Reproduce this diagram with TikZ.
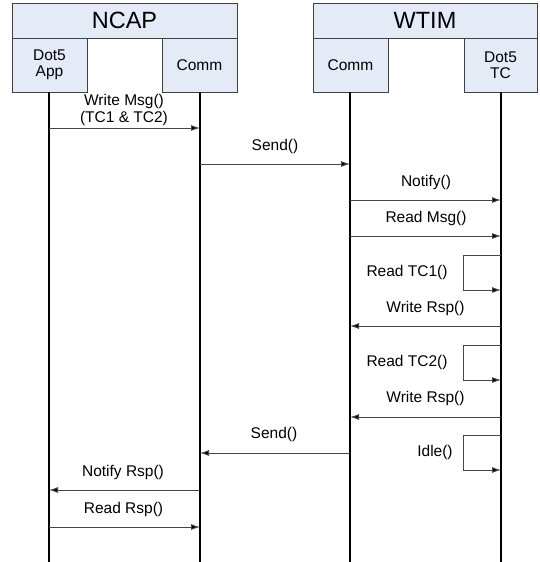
\documentclass[tikz,border=0pt]{standalone}
\usepackage{fontspec}
\setmainfont{Liberation Sans}
\usetikzlibrary{arrows.meta}
\definecolor{boxfill}{RGB}{228,235,247}
\definecolor{boxline}{RGB}{64,64,64}
\definecolor{msgline}{RGB}{70,70,70}
\tikzset{
  hdr/.style={draw=boxline, fill=boxfill, line width=0.9pt, inner sep=0pt,
    font=\fontsize{23.5}{26}\selectfont},
  sub/.style={draw=boxline, fill=boxfill, line width=0.9pt, inner sep=0pt,
    align=center, font=\fontsize{15.5}{16.5}\selectfont},
  life/.style={line width=1.4pt, black},
  msg/.style={draw=msgline, line width=0.9pt, -{Latex[length=9pt,width=6pt,fill=black]}},
  lbl/.style={font=\fontsize{15.5}{16.5}\selectfont, align=center, inner sep=0pt}
}
\begin{document}
\begin{tikzpicture}[x=1pt,y=-1pt]
\useasboundingbox (0,0) rectangle (539,562);
% header boxes
\node[hdr, minimum width=225pt, minimum height=35pt] (ncap) at (124.5,20.5) {NCAP};
\node[hdr, minimum width=224pt, minimum height=35pt] (wtim) at (425,20.5) {WTIM};
\node[sub, minimum width=75pt, minimum height=54pt] (app) at (49.5,65) {Dot5\\App};
\node[sub, minimum width=75pt, minimum height=54pt] (ncomm) at (199.5,65) {Comm};
\node[sub, minimum width=75pt, minimum height=54pt] (wcomm) at (350.5,65) {Comm};
\node[sub, minimum width=73pt, minimum height=54pt] (tc) at (500.5,65) {Dot5\\TC};
% lifeline ends
\coordinate (appE) at (49,562);
\coordinate (ncommE) at (200,562);
\coordinate (wcommE) at (350,562);
\coordinate (tcE) at (501,562);
\draw[life] (app.south -| appE) -- (appE);
\draw[life] (ncomm.south -| ncommE) -- (ncommE);
\draw[life] (wcomm.south -| wcommE) -- (wcommE);
\draw[life] (tc.south -| tcE) -- (tcE);
% message points
\coordinate (m1a) at (49,128);   \coordinate (m1b) at (200,128);
\coordinate (m2a) at (200,164);  \coordinate (m2b) at (350,164);
\coordinate (m3a) at (350,200);  \coordinate (m3b) at (501,200);
\coordinate (m4a) at (350,236);  \coordinate (m4b) at (501,236);
\coordinate (l1a) at (501,255);  \coordinate (l1b) at (501,290);
\coordinate (m5a) at (501,326);  \coordinate (m5b) at (350,326);
\coordinate (l2a) at (501,345);  \coordinate (l2b) at (501,380);
\coordinate (m6a) at (501,417);  \coordinate (m6b) at (350,417);
\coordinate (l3a) at (501,435);  \coordinate (l3b) at (501,470);
\coordinate (m7a) at (350,453);  \coordinate (m7b) at (200,453);
\coordinate (m8a) at (200,490);  \coordinate (m8b) at (49,490);
\coordinate (m9a) at (49,527);   \coordinate (m9b) at (200,527);
% messages
\draw[msg] (m1a) -- (m1b);
\draw[msg] (m2a) -- (m2b);
\draw[msg] (m3a) -- (m3b);
\draw[msg] (m4a) -- (m4b);
\draw[msg] (l1a) -- ++(-38,0) |- (l1b);
\draw[msg] (m5a) -- (m5b);
\draw[msg] (l2a) -- ++(-38,0) |- (l2b);
\draw[msg] (m6a) -- (m6b);
\draw[msg] (l3a) -- ++(-38,0) |- (l3b);
\draw[msg] (m7a) -- (m7b);
\draw[msg] (m8a) -- (m8b);
\draw[msg] (m9a) -- (m9b);
% labels
\node[lbl] (t1) at (124,110) {Write Msg()\\(TC1 \& TC2)};
\node[lbl] (t2) at (275,146) {Send()};
\node[lbl] (t3) at (426,182) {Notify()};
\node[lbl] (t4) at (426,218) {Read Msg()};
\node[lbl] (t5) at (407,272) {Read TC1()};
\node[lbl] (t6) at (425.5,308) {Write Rsp()};
\node[lbl] (t7) at (407,362) {Read TC2()};
\node[lbl] (t8) at (425.5,398) {Write Rsp()};
\node[lbl] (t9) at (435,452) {Idle()};
\node[lbl] (t10) at (274,434) {Send()};
\node[lbl] (t11) at (123,472) {Notify Rsp()};
\node[lbl] (t12) at (123.5,509) {Read Rsp()};
\end{tikzpicture}
\end{document}
